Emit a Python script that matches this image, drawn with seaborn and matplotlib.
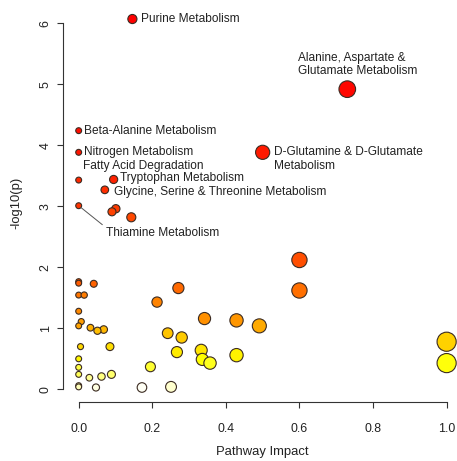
import colorsys
import numpy as np
import pandas as pd
import matplotlib
matplotlib.use("Agg")
import matplotlib.pyplot as plt
import seaborn as sns

# ---- data ----
impact = [0.146, 0.730, 0.000, 0.000, 0.500, 0.095, 0.000, 0.071, 0.000, 0.101,
          0.0905, 0.143, 0.600, 0.000, 0.000, 0.041, 0.271, 0.600, 0.000, 0.015,
          0.213, 0.000, 0.342, 0.429, 0.007, 0.000, 0.491, 0.032, 0.068, 0.051,
          0.242, 0.280, 1.000, 0.005, 0.085, 0.333, 0.267, 0.429, 0.000, 0.336,
          1.000, 0.357, 0.195, 0.000, 0.000, 0.089, 0.062, 0.029, 0.000, 0.000,
          0.251, 0.047, 0.172]
neglogp = [6.07, 4.92, 4.24, 3.885, 3.885, 3.44, 3.43, 3.27, 3.01, 2.96,
           2.91, 2.82, 2.12, 1.765, 1.74, 1.73, 1.66, 1.62, 1.545, 1.545,
           1.43, 1.28, 1.16, 1.13, 1.11, 1.04, 1.04, 1.01, 0.98, 0.96,
           0.92, 0.85, 0.78, 0.70, 0.70, 0.64, 0.61, 0.56, 0.50, 0.49,
           0.43, 0.43, 0.37, 0.36, 0.245, 0.245, 0.21, 0.19, 0.06, 0.04,
           0.04, 0.03, 0.03]
labels = {0: "Purine Metabolism",
          1: "Alanine, Aspartate &\nGlutamate Metabolism",
          2: "Beta-Alanine Metabolism",
          3: "Nitrogen Metabolism",
          4: "D-Glutamine & D-Glutamate\nMetabolism",
          5: "Tryptophan Metabolism",
          6: "Fatty Acid Degradation",
          7: "Glycine, Serine & Threonine Metabolism",
          8: "Thiamine Metabolism"}
x_ticks = [0.0, 0.2, 0.4, 0.6, 0.8, 1.0]
y_ticks = [0, 1, 2, 3, 4, 5, 6]
x_title = "Pathway Impact"
y_title = "-log10(p)"

# label offsets in points (style)
offsets = {0: (6.3, 0), 1: (-35.3, 17.9), 2: (4.0, 0), 3: (4.0, 0),
           4: (8.4, -4.8), 5: (4.5, 0.7), 6: (2.9, 9.8), 7: (6.7, -1.9),
           8: (19.4, -19.9)}


def heat_colors(n):
    j = n // 4
    i = n - j
    cols = []
    for k in range(i):
        h = (k / (i - 1)) * (1 / 6) if i > 1 else 0
        cols.append(colorsys.hsv_to_rgb(h, 1, 1))
    if j > 0:
        for s in np.linspace(1 - 1 / (2 * j), 1 / (2 * j), j):
            cols.append(colorsys.hsv_to_rgb(1 / 6, s, 1))
    return cols


df = pd.DataFrame({"impact": impact, "neglogp": neglogp})
order = np.argsort(-df["neglogp"].values, kind="stable")
rank = np.empty(len(df), dtype=int)
rank[order] = np.arange(len(df))
df["rank"] = rank
cols = heat_colors(len(df))
palette = {r: cols[r] for r in range(len(df))}

sns.set_theme(style="white")
plt.rcParams["font.family"] = ["Liberation Sans", "DejaVu Sans"]
fs = 8.6
fs_tick = 8.9
fs_title = 9.4

fig = plt.figure(figsize=(4.57, 4.61), dpi=100)
ax = fig.add_axes([0.1385, 0.1273, 0.871, 0.8632])

sns.scatterplot(data=df, x="impact", y="neglogp", hue="rank", palette=palette,
                size="impact", sizes=(18, 190), size_norm=(0, 1),
                edgecolor="#3b2b22", linewidth=0.8, legend=False, ax=ax,
                zorder=3)

for idx, txt in labels.items():
    dx, dy = offsets[idx]
    kw = {}
    if idx == 8:
        kw["arrowprops"] = dict(arrowstyle="-", color="#555555", lw=0.7,
                                shrinkA=0, shrinkB=2,
                                relpos=(0, 1))
    ax.annotate(txt, xy=(df.impact[idx], df.neglogp[idx]),
                xytext=(dx, dy), textcoords="offset points",
                ha="left", va="center", fontsize=fs, color="#222222",
                linespacing=1.15, zorder=4, annotation_clip=False, **kw)

ax.set_xlim(-0.0418, 1.04)
ax.set_ylim(-0.213, 6.31)
ax.set_xticks(x_ticks)
ax.set_xticklabels([f"{v:.1f}" for v in x_ticks], fontsize=fs_tick, color="#222222")
ax.set_yticks(y_ticks)
ax.set_yticklabels([str(v) for v in y_ticks], fontsize=fs_tick, color="#222222",
                   rotation=90, va="center")
ax.tick_params(axis="x", direction="out", length=4.3, width=0.8,
               color="#333333", pad=10.5, bottom=True)
ax.tick_params(axis="y", direction="out", length=4.3, width=0.8,
               color="#333333", pad=4, left=True)
for s in ["top", "right"]:
    ax.spines[s].set_visible(False)
for s in ["left", "bottom"]:
    ax.spines[s].set_color("#333333")
    ax.spines[s].set_linewidth(0.8)
ax.spines["bottom"].set_bounds(0, 1)
ax.spines["left"].set_bounds(0, 6)

ax.set_xlabel(x_title, fontsize=fs_title, color="#222222", va="center")
ax.set_ylabel(y_title, fontsize=fs_title, color="#222222", va="center")
ax.xaxis.set_label_coords(0.5, -0.125)
ax.yaxis.set_label_coords(-0.117, 0.5)
ax.grid(False)

fig.savefig("out.png", dpi=100)
